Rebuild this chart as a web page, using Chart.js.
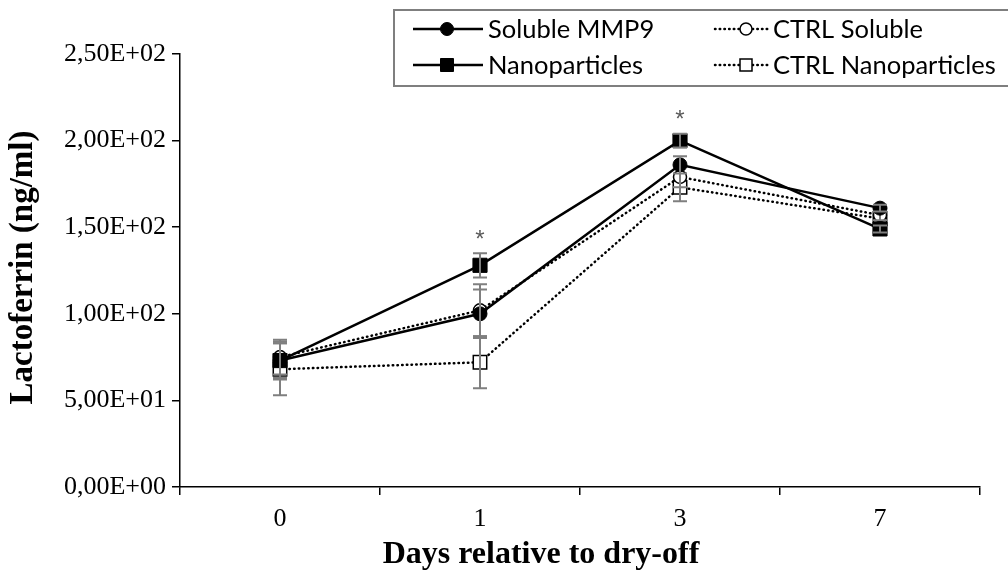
<!DOCTYPE html>
<html>
<head>
<meta charset="utf-8">
<script src="https://cdn.jsdelivr.net/npm/chart.js@4.4.1/dist/chart.umd.min.js"></script>
<style>
  html, body { margin: 0; padding: 0; background: #fff; }
  #c { display: block; }
</style>
</head>
<body>
<canvas id="c" width="1008" height="579"></canvas>
<script>
// ---- Data ----
const categories = ['0', '1', '3', '7'];
const solubleMMP9 = [73, 100, 186, 161];
const solubleMMP9Err = [11, 14, 5, 2];
const nanoparticles = [73, 128, 200, 149];
const nanoparticlesErr = [10, 7, 4, 2];
const ctrlSoluble = [75, 102, 179, 157];
const ctrlSolubleErr = [10, 15, 6, 3];
const ctrlNanoparticles = [68, 72, 173, 155];
const ctrlNanoparticlesErr = [15, 15, 8, 3];
const significance = ['', '*', '*', ''];
const yTickLabels = ['0,00E+00', '5,00E+01', '1,00E+02', '1,50E+02', '2,00E+02', '2,50E+02'];
const xTitle = 'Days relative to dry-off';
const yTitle = 'Lactoferrin (ng/ml)';

const errorBars = {
  id: 'errorBars',
  afterDatasetDraw(chart, args) {
    const ds = chart.data.datasets[args.index];
    if (!ds.errors) return;
    const ctx = chart.ctx;
    const ys = chart.scales.y;
    ctx.save();
    ctx.strokeStyle = '#7f7f7f';
    ctx.lineWidth = 2;
    ctx.setLineDash([]);
    args.meta.data.forEach((pt, i) => {
      const v = ds.data[i], e = ds.errors[i];
      const x = pt.x;
      const yt = ys.getPixelForValue(v + e);
      const yb = ys.getPixelForValue(v - e);
      ctx.beginPath();
      ctx.moveTo(x, yt); ctx.lineTo(x, yb);
      ctx.moveTo(x - 7, yt); ctx.lineTo(x + 7, yt);
      ctx.moveTo(x - 7, yb); ctx.lineTo(x + 7, yb);
      ctx.stroke();
    });
    ctx.restore();
  }
};

const stars = {
  id: 'stars',
  afterDatasetsDraw(chart) {
    const ctx = chart.ctx;
    const ys = chart.scales.y, xs = chart.scales.x;
    ctx.save();
    ctx.fillStyle = '#595959';
    ctx.font = '24px "Liberation Sans"';
    ctx.textAlign = 'center';
    ctx.textBaseline = 'middle';
    significance.forEach((s, i) => {
      if (!s) return;
      let top = -Infinity;
      chart.data.datasets.forEach(ds => { top = Math.max(top, ds.data[i] + (ds.errors ? ds.errors[i] : 0)); });
      ctx.fillText(s, xs.getPixelForValue(i), ys.getPixelForValue(top) - 13);
    });
    ctx.restore();
  }
};

const axisTitles = {
  id: 'axisTitles',
  afterDraw(chart) {
    const ctx = chart.ctx;
    ctx.save();
    ctx.fillStyle = '#000';
    ctx.font = 'bold 32px "Liberation Serif"';
    ctx.textAlign = 'center';
    ctx.textBaseline = 'middle';
    ctx.fillText(xTitle, 541, 555);
    const ya = chart.chartArea;
    ctx.font = 'bold 33px "Liberation Serif"';
    ctx.translate(23, (ya.top + ya.bottom) / 2 - 3);
    ctx.rotate(-Math.PI / 2);
    ctx.fillText(yTitle, 0, 0);
    ctx.restore();
  }
};

const customLegend = {
  id: 'customLegend',
  afterDraw(chart) {
    const ctx = chart.ctx;
    const ds = chart.data.datasets;
    ctx.save();
    ctx.strokeStyle = '#7f7f7f';
    ctx.lineWidth = 2;
    ctx.strokeRect(394, 10, 640, 76);
    const rows = [29, 65];
    const cols = [{x0: 413, xm: 447, x1: 483, tx: 488}, {x0: 715, xm: 746, x1: 768, tx: 773}];
    const place = [[0, 0], [1, 0], [0, 1], [1, 1]]; // [row, col]
    ds.forEach((d, i) => {
      const [r, c] = place[i];
      const y = rows[r], col = cols[c];
      ctx.beginPath();
      ctx.strokeStyle = '#000';
      ctx.lineWidth = d.borderWidth;
      ctx.lineCap = d.borderCapStyle || 'butt';
      ctx.setLineDash(d.borderDash || []);
      ctx.moveTo(col.x0, y); ctx.lineTo(col.x1, y);
      ctx.stroke();
      ctx.setLineDash([]);
      ctx.fillStyle = d.pointBackgroundColor;
      ctx.lineWidth = d.pointBorderWidth;
      ctx.beginPath();
      if (d.pointStyle === 'circle') {
        ctx.arc(col.xm, y, d.legendSize, 0, Math.PI * 2);
      } else {
        const s = d.legendSize;
        ctx.rect(col.xm - s, y - s, 2 * s, 2 * s);
      }
      ctx.fill(); ctx.stroke();
      ctx.fillStyle = '#000';
      ctx.font = '25.5px Lato';
      ctx.textAlign = 'left';
      ctx.textBaseline = 'middle';
      ctx.fillText(d.label, col.tx, y + 1);
    });
    ctx.restore();
  }
};

new Chart(document.getElementById('c'), {
  type: 'line',
  data: {
    labels: categories,
    datasets: [
      { label: 'Soluble MMP9', data: solubleMMP9, errors: solubleMMP9Err,
        borderColor: '#000', borderWidth: 2.5, pointStyle: 'circle', pointRadius: 7,
        pointBackgroundColor: '#000', pointBorderColor: '#000', pointBorderWidth: 1, legendSize: 6.5 },
      { label: 'Nanoparticles', data: nanoparticles, errors: nanoparticlesErr,
        borderColor: '#000', borderWidth: 2.5, pointStyle: 'rect', pointRadius: 10,
        pointBackgroundColor: '#000', pointBorderColor: '#000', pointBorderWidth: 1, legendSize: 6.5 },
      { label: 'CTRL Soluble', data: ctrlSoluble, errors: ctrlSolubleErr,
        borderColor: '#000', borderWidth: 2.5, borderDash: [0.5, 4.2], borderCapStyle: 'round',
        pointStyle: 'circle', pointRadius: 6.5, pointBackgroundColor: '#fff', pointBorderColor: '#000',
        pointBorderWidth: 1.5, legendSize: 6 },
      { label: 'CTRL Nanoparticles', data: ctrlNanoparticles, errors: ctrlNanoparticlesErr,
        borderColor: '#000', borderWidth: 2.5, borderDash: [0.5, 4.2], borderCapStyle: 'round',
        pointStyle: 'rect', pointRadius: 9.5, pointBackgroundColor: '#fff', pointBorderColor: '#000',
        pointBorderWidth: 1.5, legendSize: 6 }
    ]
  },
  options: {
    responsive: false,
    devicePixelRatio: 1,
    animation: false,
    layout: { padding: { left: 0, right: 28, top: 54, bottom: 0 } },
    plugins: { legend: { display: false }, tooltip: { enabled: false } },
    scales: {
      x: {
        type: 'category',
        offset: true,
        grid: { offset: true, drawOnChartArea: false, drawTicks: true, tickLength: 8, color: '#000', lineWidth: 1.5 },
        border: { color: '#000', width: 1.5 },
        ticks: { color: '#000', font: { family: '"Liberation Serif"', size: 26 }, padding: 9 },
        afterFit(s) { s.height = 92; }
      },
      y: {
        min: 0, max: 250,
        grid: { drawOnChartArea: false, drawTicks: true, tickLength: 8, color: '#000', lineWidth: 1.5 },
        border: { color: '#000', width: 1.5 },
        ticks: { stepSize: 50, color: '#000', font: { family: '"Liberation Serif"', size: 26 }, padding: 6,
                 callback: (v) => yTickLabels[Math.round(v / 50)] },
        afterFit(s) { s.width = 180; }
      }
    }
  },
  plugins: [errorBars, stars, axisTitles, customLegend]
});
</script>
</body>
</html>
